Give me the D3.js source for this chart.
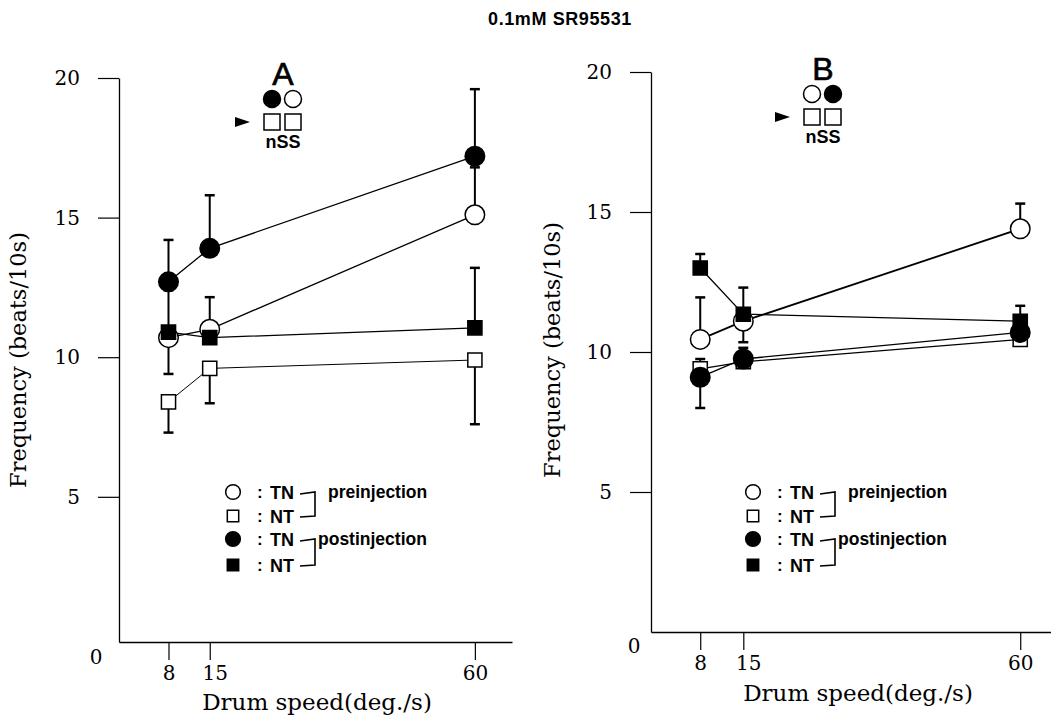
<!DOCTYPE html>
<html>
<head>
<meta charset="utf-8">
<script src="https://cdn.jsdelivr.net/npm/d3@7"></script>
<style>
  html, body { margin: 0; padding: 0; background: #fff; }
  svg { display: block; }
</style>
</head>
<body>
<svg id="chart" width="1051" height="719"></svg>
<script>
// ---------------- data ----------------
const speeds = [8, 15, 60];
const xTickValues = [8, 15, 60];
const yTickValues = [5, 10, 15, 20];
const chartTitle = "0.1mM SR95531";
const xTitle = "Drum speed(deg./s)";
const yTitle = "Frequency (beats/10s)";
const legendLabels = ["TN", "NT", "TN", "NT"];
const legendGroups = ["preinjection", "postinjection"];

// Panel A
const aTNpre = [10.7, 11.0, 15.1];
const aTNpreUp = [0, 1.15, 1.7];
const aTNpreDown = [0, 0, 0];
const aNTpre = [8.4, 9.6, 9.9];
const aNTpreUp = [0, 0, 0];
const aNTpreDown = [1.1, 1.25, 2.3];
const aTNpost = [12.7, 13.9, 17.2];
const aTNpostUp = [1.5, 1.9, 2.4];
const aTNpostDown = [0, 0, 0];
const aNTpost = [10.9, 10.7, 11.05];
const aNTpostUp = [1.5, 0, 2.15];
const aNTpostDown = [1.5, 0, 0];

// Panel B
const bTNpre = [10.45, 11.1, 14.4];
const bTNpreUp = [1.5, 0, 0.9];
const bTNpreDown = [0, 0.75, 0];
const bNTpre = [9.4, 9.65, 10.45];
const bNTpreUp = [0.35, 0.5, 0];
const bNTpreDown = [0, 0, 0.2];
const bTNpost = [9.1, 9.75, 10.7];
const bTNpostUp = [0, 0, 0];
const bTNpostDown = [1.1, 0.3, 0.3];
const bNTpost = [13.0, 11.35, 11.1];
const bNTpostUp = [0.5, 0.95, 0.55];
const bNTpostDown = [0, 0, 0];

// ---------------- drawing ----------------
const svg = d3.select("#chart");
const serif = "'DejaVu Serif', serif";
const sans = "'Liberation Sans', Arial, sans-serif";

svg.append("text")
  .attr("x", 560).attr("y", 25)
  .attr("text-anchor", "middle")
  .attr("font-family", sans).attr("font-weight", "bold").attr("font-size", 18)
  .attr("letter-spacing", 0.6)
  .text(chartTitle);

function symbolPath(shape, size) {
  const t = shape === "circle" ? d3.symbolCircle : d3.symbolSquare;
  return d3.symbol().type(t).size(size)();
}

function drawPanel(cfg) {
  const g = svg.append("g");
  const x = d3.scaleLinear().domain(cfg.xDomain).range(cfg.xRange);
  const y = d3.scaleLinear().domain(cfg.yDomain).range(cfg.yRange);
  const x0 = cfg.xRange[0];
  const yBase = cfg.yRange[0];

  // y axis
  const ya = g.append("g").attr("transform", `translate(${x0},0)`)
    .call(d3.axisLeft(y).tickValues(yTickValues).tickSize(21).tickSizeOuter(0).tickPadding(18));
  ya.select(".domain").attr("stroke-width", 1.3);
  ya.selectAll(".tick line").attr("stroke-width", 1.2);
  ya.selectAll(".tick text").attr("font-family", serif).attr("font-size", 20).attr("fill", "#000");

  // x axis
  const xa = g.append("g").attr("transform", `translate(0,${yBase})`)
    .call(d3.axisBottom(x).tickValues(xTickValues).tickSize(18).tickSizeOuter(0).tickPadding(6));
  xa.select(".domain").attr("stroke-width", 1.3);
  xa.selectAll(".tick line").attr("stroke-width", 1.2);
  xa.selectAll(".tick text").attr("font-family", serif).attr("font-size", 20).attr("fill", "#000")
    .attr("dx", (d) => d === 15 ? 5 : 0);

  // zero label
  g.append("text").attr("x", cfg.zeroPos[0]).attr("y", cfg.zeroPos[1])
    .attr("font-family", serif).attr("font-size", 20).attr("text-anchor", "middle")
    .text("0");

  // axis titles
  g.append("text").attr("x", cfg.xTitlePos[0]).attr("y", cfg.xTitlePos[1])
    .attr("text-anchor", "middle").attr("font-family", serif).attr("font-size", 23)
    .text(xTitle);
  g.append("text")
    .attr("transform", `translate(${cfg.yTitlePos[0]},${cfg.yTitlePos[1]}) rotate(-90)`)
    .attr("text-anchor", "middle").attr("font-family", serif).attr("font-size", 22.5)
    .text(yTitle);

  const line = d3.line().x((d) => x(d[0])).y((d) => y(d[1]));

  // lines
  cfg.series.forEach((s) => {
    g.append("path").datum(speeds.map((sp, i) => [sp, s.values[i]]))
      .attr("d", line).attr("fill", "none").attr("stroke", "#000")
      .attr("stroke-width", s.lineWidth || 1.3);
  });
  // error bars
  cfg.series.forEach((s) => {
    speeds.forEach((sp, i) => {
      const v = s.values[i];
      [[s.up[i], 1], [s.down[i], -1]].forEach(([e, dir]) => {
        if (!e) return;
        const yEnd = y(v + dir * e);
        g.append("line").attr("x1", x(sp)).attr("x2", x(sp))
          .attr("y1", y(v)).attr("y2", yEnd)
          .attr("stroke", "#000").attr("stroke-width", 2);
        g.append("line").attr("x1", x(sp) - 5).attr("x2", x(sp) + 5)
          .attr("y1", yEnd).attr("y2", yEnd)
          .attr("stroke", "#000").attr("stroke-width", 2.5);
      });
    });
  });
  // markers
  cfg.series.forEach((s) => {
    speeds.forEach((sp, i) => {
      g.append("path").attr("d", symbolPath(s.shape, s.shape === "circle" ? 300 : 200))
        .attr("transform", `translate(${x(sp)},${y(s.values[i])})`)
        .attr("fill", s.filled ? "#000" : "#fff")
        .attr("stroke", "#000").attr("stroke-width", 1.5);
    });
  });

  // panel label and icon
  const [lx, ly] = cfg.labelPos;
  g.append("text").attr("x", lx).attr("y", ly).attr("text-anchor", "middle")
    .attr("font-family", sans).attr("font-size", 32)
    .attr("stroke", "#000").attr("stroke-width", 0.7).text(cfg.label);
  cfg.iconCircles.forEach((filled, i) => {
    g.append("circle").attr("cx", lx - 11 + i * 21).attr("cy", ly + 14).attr("r", 8.5)
      .attr("fill", filled ? "#000" : "#fff").attr("stroke", "#000").attr("stroke-width", 1.5);
  });
  [0, 1].forEach((i) => {
    g.append("rect").attr("x", lx - 19 + i * 21).attr("y", ly + 29).attr("width", 16).attr("height", 16)
      .attr("fill", "#fff").attr("stroke", "#000").attr("stroke-width", 1.5);
  });
  g.append("path")
    .attr("d", `M${lx - 48},${ly + 32} L${lx - 33},${ly + 37} L${lx - 48},${ly + 42} Z`)
    .attr("fill", "#000");
  g.append("text").attr("x", lx).attr("y", ly + 63).attr("text-anchor", "middle")
    .attr("font-family", sans).attr("font-weight", "bold").attr("font-size", 18).text("nSS");

  // legend
  const [gx, gy] = cfg.legendPos;
  const rowY = [0, 24, 47, 73];
  const legendShapes = [["circle", false], ["square", false], ["circle", true], ["square", true]];
  legendShapes.forEach(([shape, filled], i) => {
    g.append("path").attr("d", symbolPath(shape, shape === "circle" ? 170 : 130))
      .attr("transform", `translate(${gx},${gy + rowY[i]})`)
      .attr("fill", filled ? "#000" : "#fff").attr("stroke", "#000").attr("stroke-width", 1.5);
    g.append("text").attr("x", gx + 24).attr("y", gy + rowY[i] + 6)
      .attr("font-family", sans).attr("font-weight", "bold").attr("font-size", 17).text(":");
    g.append("text").attr("x", gx + 37).attr("y", gy + rowY[i] + 7)
      .attr("font-family", sans).attr("font-weight", "bold").attr("font-size", 18).text(legendLabels[i]);
  });
  [0, 2].forEach((r, k) => {
    const y1 = gy + rowY[r], y2 = gy + rowY[r + 1];
    g.append("path")
      .attr("d", `M${gx + 67},${y1 + 2} L${gx + 82},${y1} L${gx + 82},${y2} L${gx + 67},${y2 + 1}`)
      .attr("fill", "none").attr("stroke", "#000").attr("stroke-width", 1.6);
    g.append("text").attr("x", k === 0 ? gx + 95 : gx + 85).attr("y", y1 + 6)
      .attr("font-family", sans).attr("font-weight", "bold").attr("font-size", 17.5)
      .text(legendGroups[k]);
  });
}

drawPanel({
  xDomain: [-0.4, 66.3], xRange: [119, 512],
  yDomain: [-0.2, 20], yRange: [642, 78],
  zeroPos: [96, 664],
  xTitlePos: [317, 710], yTitlePos: [26, 360],
  label: "A", labelPos: [283, 85],
  iconCircles: [true, false],
  legendPos: [233, 492],
  series: [
    { values: aTNpre, up: aTNpreUp, down: aTNpreDown, shape: "circle", filled: false },
    { values: aNTpre, up: aNTpreUp, down: aNTpreDown, shape: "square", filled: false, lineWidth: 1 },
    { values: aTNpost, up: aTNpostUp, down: aTNpostDown, shape: "circle", filled: true },
    { values: aNTpost, up: aNTpostUp, down: aNTpostDown, shape: "square", filled: true }
  ]
});

drawPanel({
  xDomain: [0, 65], xRange: [651, 1051],
  yDomain: [0, 20], yRange: [632, 72],
  zeroPos: [634, 653],
  xTitlePos: [858, 701], yTitlePos: [560, 350],
  label: "B", labelPos: [823, 80],
  iconCircles: [false, true],
  legendPos: [753, 492],
  series: [
    { values: bTNpre, up: bTNpreUp, down: bTNpreDown, shape: "circle", filled: false, lineWidth: 1.8 },
    { values: bNTpre, up: bNTpreUp, down: bNTpreDown, shape: "square", filled: false },
    { values: bTNpost, up: bTNpostUp, down: bTNpostDown, shape: "circle", filled: true },
    { values: bNTpost, up: bNTpostUp, down: bNTpostDown, shape: "square", filled: true }
  ]
});
</script>
</body>
</html>
